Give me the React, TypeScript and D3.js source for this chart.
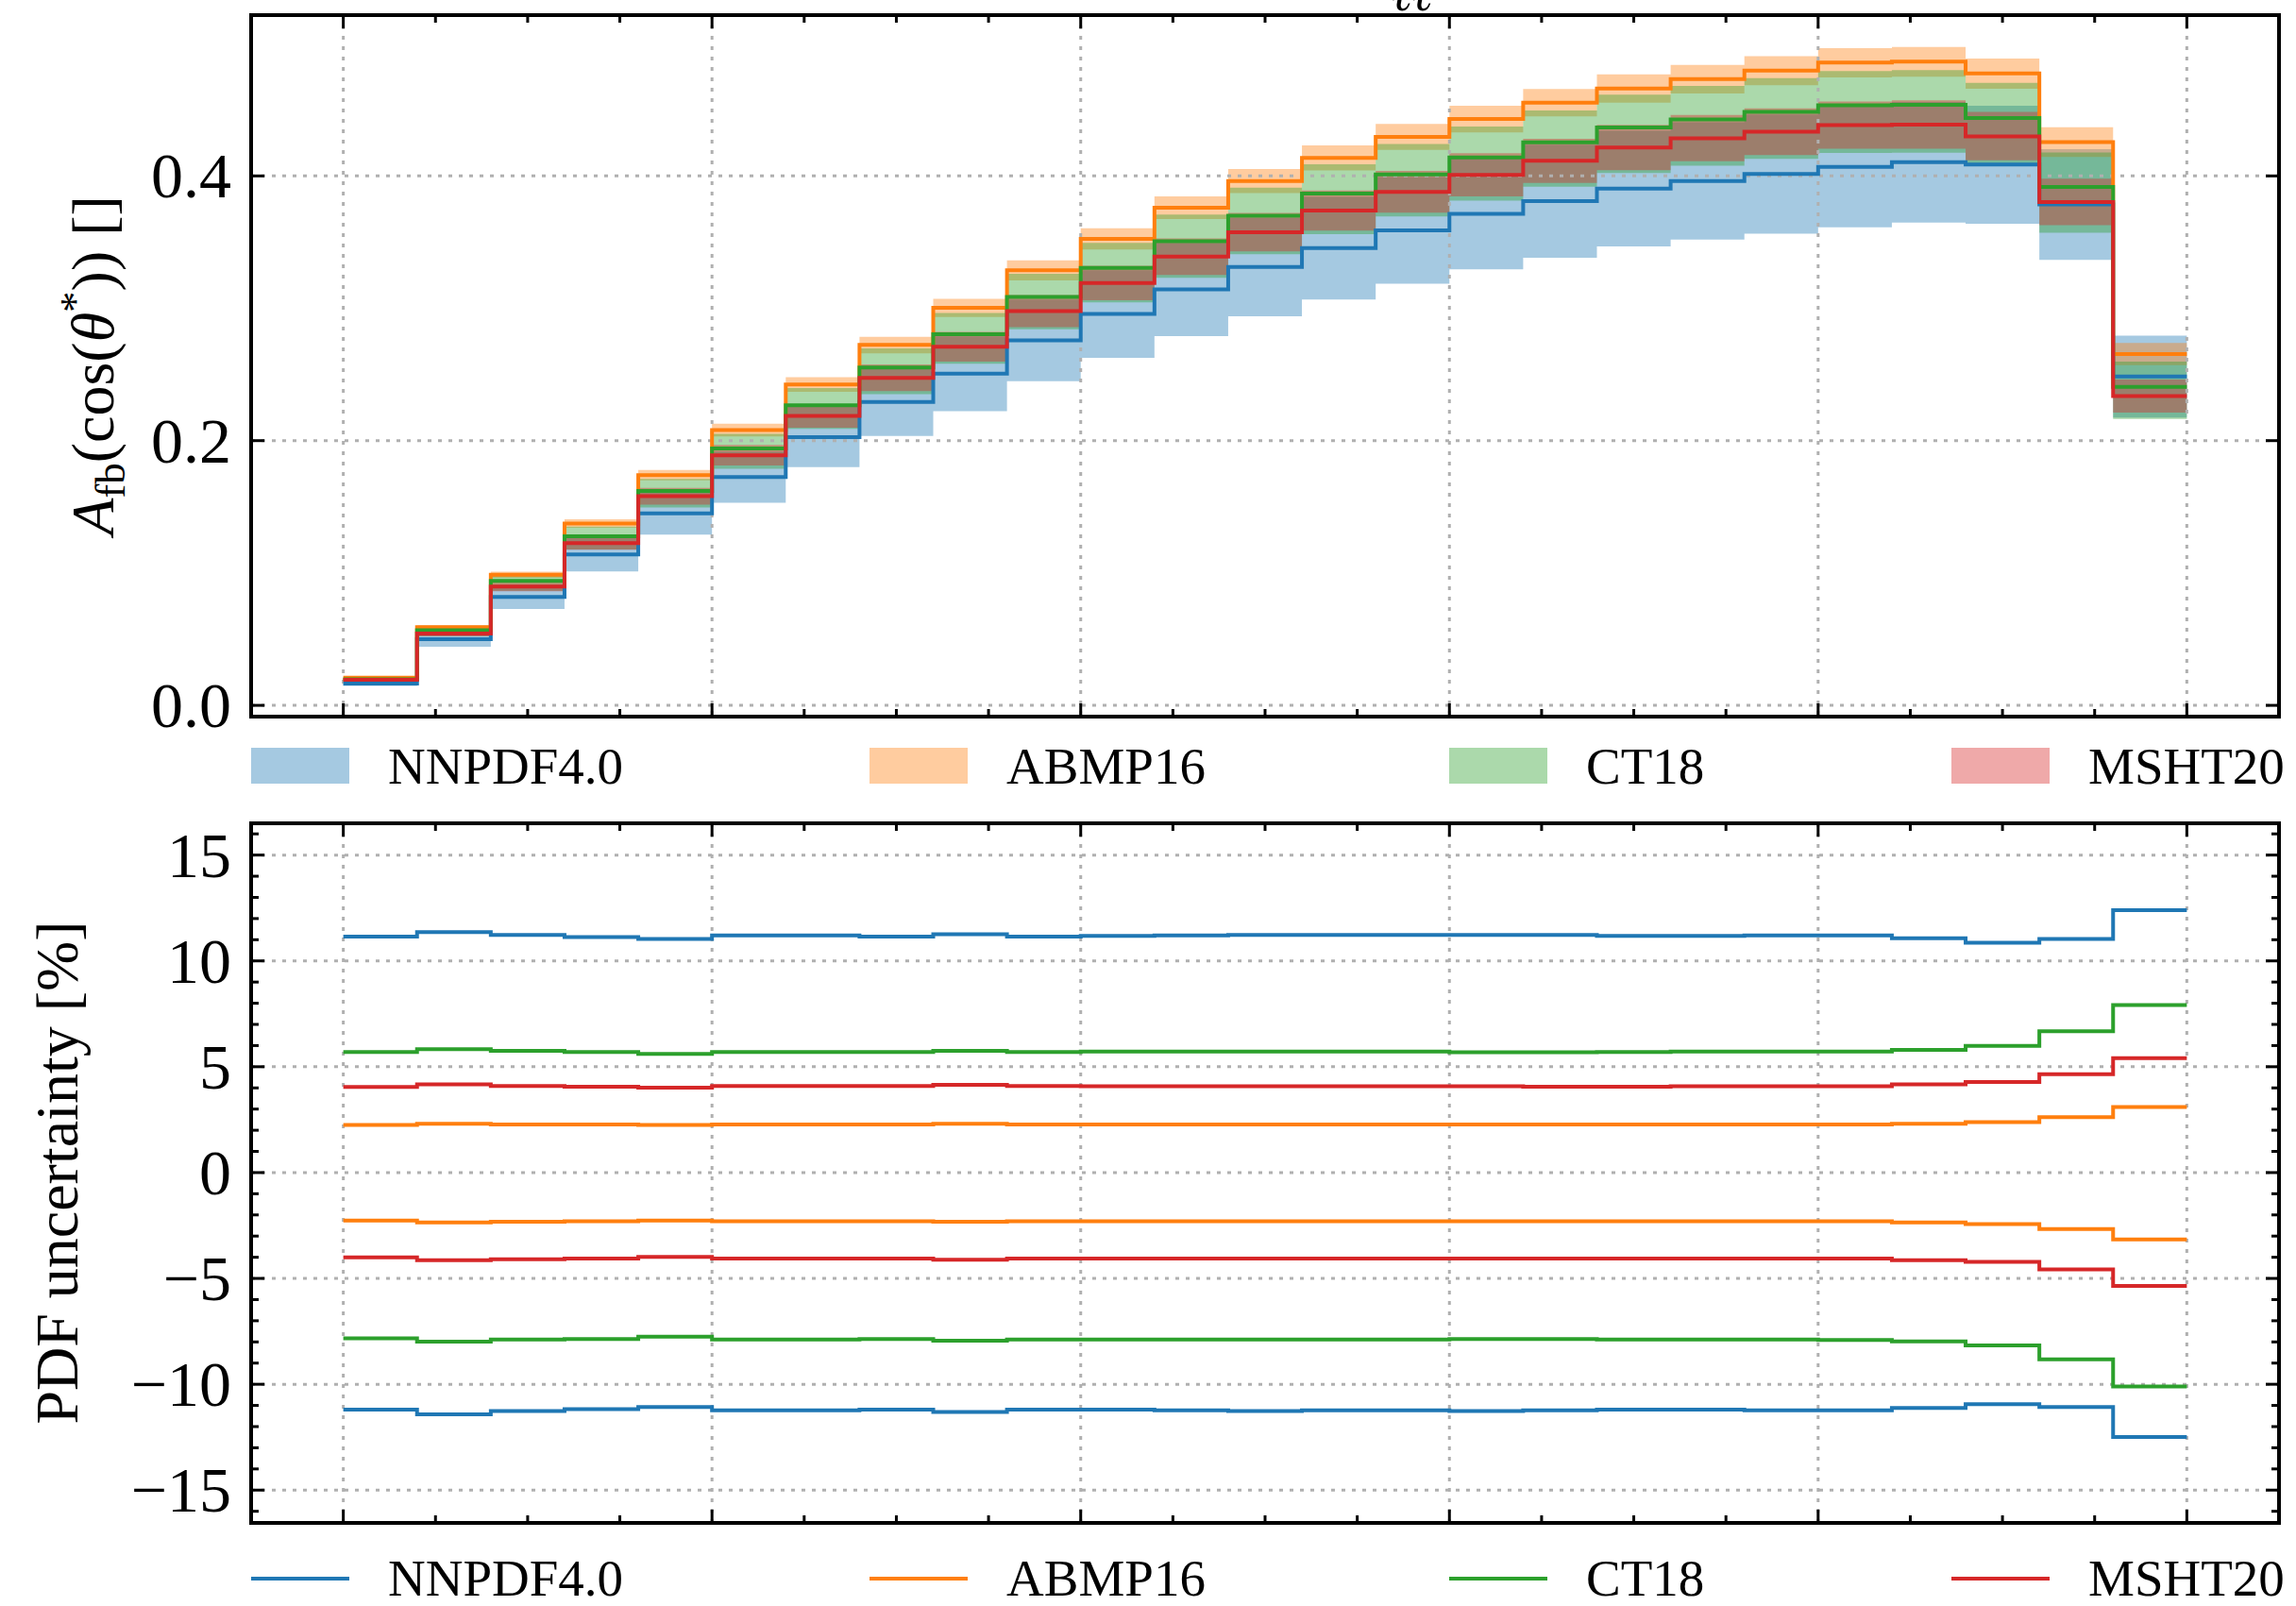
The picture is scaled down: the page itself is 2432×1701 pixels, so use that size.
import React from 'react';
import * as d3 from 'd3';

// ---- data -------------------------------------------------------------
const NBINS = 25;
const seriesNames = ['NNPDF4.0', 'ABMP16', 'CT18', 'MSHT20'];
const seriesColors = ['#1f77b4', '#ff7f0e', '#2ca02c', '#d62728'];

// central predictions of A_fb per bin
const nnpdfCentral = [0.0165, 0.050, 0.082, 0.114, 0.145, 0.1725, 0.2027, 0.2293, 0.2506, 0.2758, 0.2957, 0.3142, 0.3312, 0.3454, 0.3589, 0.3713, 0.3809, 0.3905, 0.3962, 0.4015, 0.4068, 0.4104, 0.4086, 0.3784, 0.2485];
const abmpCentral = [0.0210, 0.059, 0.0987, 0.1374, 0.174, 0.208, 0.2424, 0.2723, 0.3003, 0.3287, 0.3525, 0.376, 0.3962, 0.4136, 0.4295, 0.443, 0.4554, 0.4661, 0.4732, 0.4796, 0.4856, 0.4863, 0.4774, 0.4256, 0.2655];
const ct18Central = [0.0196, 0.0568, 0.094, 0.1278, 0.162, 0.194, 0.2268, 0.2552, 0.2804, 0.3085, 0.3305, 0.3507, 0.37, 0.3866, 0.4011, 0.4139, 0.4253, 0.4366, 0.4427, 0.4483, 0.4533, 0.4537, 0.4437, 0.3916, 0.2407];
const mshtCentral = [0.0193, 0.0543, 0.0898, 0.1225, 0.158, 0.189, 0.2187, 0.2474, 0.2709, 0.2978, 0.3191, 0.339, 0.3575, 0.3738, 0.388, 0.4008, 0.4114, 0.4214, 0.4285, 0.4334, 0.4384, 0.4388, 0.4299, 0.3802, 0.2336];

// relative PDF uncertainty per bin [%]
const nnpdfUp = [11.15, 11.36, 11.23, 11.12, 11.04, 11.2, 11.2, 11.15, 11.26, 11.15, 11.18, 11.2, 11.23, 11.23, 11.23, 11.23, 11.23, 11.18, 11.18, 11.2, 11.2, 11.07, 10.86, 11.04, 12.4];
const nnpdfDown = [-11.2, -11.42, -11.26, -11.18, -11.07, -11.23, -11.23, -11.2, -11.31, -11.2, -11.2, -11.23, -11.26, -11.23, -11.23, -11.26, -11.23, -11.2, -11.2, -11.23, -11.23, -11.12, -10.94, -11.07, -12.49];
const abmpUp = [2.25, 2.3, 2.27, 2.27, 2.25, 2.27, 2.27, 2.27, 2.3, 2.27, 2.27, 2.27, 2.27, 2.27, 2.27, 2.27, 2.27, 2.27, 2.27, 2.27, 2.27, 2.3, 2.38, 2.62, 3.1];
const abmpDown = [-2.27, -2.35, -2.32, -2.3, -2.27, -2.3, -2.3, -2.3, -2.32, -2.3, -2.3, -2.3, -2.3, -2.3, -2.3, -2.3, -2.3, -2.3, -2.3, -2.3, -2.3, -2.35, -2.43, -2.67, -3.16];
const ct18Up = [5.7, 5.83, 5.75, 5.7, 5.61, 5.7, 5.7, 5.7, 5.75, 5.7, 5.72, 5.72, 5.72, 5.72, 5.72, 5.68, 5.68, 5.7, 5.72, 5.72, 5.72, 5.8, 5.99, 6.68, 7.91];
const ct18Down = [-7.83, -7.99, -7.89, -7.86, -7.75, -7.89, -7.89, -7.86, -7.94, -7.89, -7.89, -7.89, -7.89, -7.89, -7.89, -7.86, -7.86, -7.89, -7.89, -7.89, -7.91, -7.97, -8.16, -8.82, -10.1];
const mshtUp = [4.04, 4.17, 4.09, 4.06, 4.01, 4.09, 4.09, 4.09, 4.14, 4.09, 4.08, 4.08, 4.08, 4.08, 4.08, 4.08, 4.06, 4.06, 4.08, 4.08, 4.08, 4.17, 4.28, 4.65, 5.4];
const mshtDown = [-4.01, -4.14, -4.09, -4.06, -3.98, -4.06, -4.06, -4.06, -4.12, -4.06, -4.06, -4.06, -4.06, -4.06, -4.06, -4.06, -4.06, -4.06, -4.06, -4.06, -4.06, -4.14, -4.22, -4.57, -5.35];

const centrals = [nnpdfCentral, abmpCentral, ct18Central, mshtCentral];
const ups = [nnpdfUp, abmpUp, ct18Up, mshtUp];
const downs = [nnpdfDown, abmpDown, ct18Down, mshtDown];

const topYTicks = [0, 0.2, 0.4];
const topYTickLabels = ['0.0', '0.2', '0.4'];
const botYTicks = [-15, -10, -5, 0, 5, 10, 15];
const botYTickLabels = ['\u221215', '\u221210', '\u22125', '0', '5', '10', '15'];
const xMajorTicks = [0, 5, 10, 15, 20, 25];

// ---- styling ----------------------------------------------------------
const FONT = "'Liberation Serif', 'DejaVu Serif', serif";
const GRID = { stroke: '#b0b0b0', strokeWidth: 3, strokeDasharray: '4 7' };
const BAND_ALPHA = 0.4;

type Panel = { y0: number; y1: number };

export default function App() {
  const W = 2432;
  const H = 1701;
  const axL = 266;
  const axR = 2414;
  const topP: Panel = { y0: 16, y1: 759 };
  const botP: Panel = { y0: 872, y1: 1613 };

  const x = d3.scaleLinear().domain([-1.25, NBINS + 1.25]).range([axL, axR]);
  const yA = d3.scaleLinear().domain([-0.0085, 0.5215]).range([topP.y1, topP.y0]);
  const yP = d3.scaleLinear().domain([-16.55, 16.5]).range([botP.y1, botP.y0]);

  const edges = d3.range(NBINS + 1);
  const atEdges = (vals: number[]) => edges.map((i) => [i, vals[Math.min(i, NBINS - 1)]] as [number, number]);

  const stepLine = (y: d3.ScaleLinear<number, number>) =>
    d3.line<[number, number]>().x((d) => x(d[0])).y((d) => y(d[1])).curve(d3.curveStepAfter);

  const bandArea = d3
    .area<{ e: number; lo: number; hi: number }>()
    .x((d) => x(d.e))
    .y0((d) => yA(d.lo))
    .y1((d) => yA(d.hi))
    .curve(d3.curveStepAfter);

  const series = seriesNames.map((name, k) => {
    const c = centrals[k];
    const band = edges.map((e) => {
      const i = Math.min(e, NBINS - 1);
      return { e, lo: c[i] * (1 + downs[k][i] / 100), hi: c[i] * (1 + ups[k][i] / 100) };
    });
    return { name, color: seriesColors[k], central: c, up: ups[k], down: downs[k], band };
  });

  const xMinor = d3.range(0, NBINS + 0.001, 1.25).filter((v) => !xMajorTicks.includes(v));

  const renderTicks = (p: Panel, y: d3.ScaleLinear<number, number>, yMajor: number[], yMinor: number[]) => {
    const M = 14;
    const m = 8;
    const s = { stroke: '#000', strokeWidth: 3 };
    const out: React.ReactNode[] = [];
    xMajorTicks.forEach((v, i) => {
      out.push(<line key={`xb${i}`} x1={x(v)} x2={x(v)} y1={p.y1} y2={p.y1 - M} {...s} />);
      out.push(<line key={`xt${i}`} x1={x(v)} x2={x(v)} y1={p.y0} y2={p.y0 + M} {...s} />);
    });
    xMinor.forEach((v, i) => {
      out.push(<line key={`xmb${i}`} x1={x(v)} x2={x(v)} y1={p.y1} y2={p.y1 - m} {...s} />);
      out.push(<line key={`xmt${i}`} x1={x(v)} x2={x(v)} y1={p.y0} y2={p.y0 + m} {...s} />);
    });
    yMajor.forEach((v, i) => {
      out.push(<line key={`yl${i}`} x1={axL} x2={axL + M} y1={y(v)} y2={y(v)} {...s} />);
      out.push(<line key={`yr${i}`} x1={axR} x2={axR - M} y1={y(v)} y2={y(v)} {...s} />);
    });
    yMinor.forEach((v, i) => {
      out.push(<line key={`yml${i}`} x1={axL} x2={axL + m} y1={y(v)} y2={y(v)} {...s} />);
      out.push(<line key={`ymr${i}`} x1={axR} x2={axR - m} y1={y(v)} y2={y(v)} {...s} />);
    });
    return out;
  };

  const renderGrid = (p: Panel, y: d3.ScaleLinear<number, number>, yMajor: number[]) => (
    <g>
      {xMajorTicks.map((v, i) => (
        <line key={`gx${i}`} x1={x(v)} x2={x(v)} y1={p.y0} y2={p.y1} {...GRID} />
      ))}
      {yMajor.map((v, i) => (
        <line key={`gy${i}`} x1={axL} x2={axR} y1={y(v)} y2={y(v)} {...GRID} />
      ))}
    </g>
  );

  const botMinor = d3.range(-16, 16.01, 1).filter((v) => !botYTicks.includes(v));

  // legend column starts (relative to the left edge of the axes)
  const legendCols = [0, 655, 1269, 1801];
  const handleW = 104;
  const textGap = 145;

  return (
    <svg
      width={W}
      height={H}
      viewBox={`0 0 ${W} ${H}`}
      style={{ position: 'absolute', left: 0, top: 0, background: '#fff' }}
      fontFamily={FONT}
    >
      <rect x={0} y={0} width={W} height={H} fill="#fff" />
      <defs>
        <clipPath id="clipTop">
          <rect x={axL} y={topP.y0} width={axR - axL} height={topP.y1 - topP.y0} />
        </clipPath>
        <clipPath id="clipBot">
          <rect x={axL} y={botP.y0} width={axR - axL} height={botP.y1 - botP.y0} />
        </clipPath>
      </defs>

      {/* title (runs off the top edge) */}
      <text x={1496} y={11} fontSize={52} fontStyle="italic" textAnchor="middle">
        ℓℓ
      </text>

      {/* ---------- top panel: A_fb with PDF bands ---------- */}
      <g clipPath="url(#clipTop)">
        {series.map((s) => (
          <path key={`band-${s.name}`} d={bandArea(s.band) || ''} fill={s.color} fillOpacity={BAND_ALPHA} stroke="none" />
        ))}
        {renderGrid(topP, yA, topYTicks)}
        {series.map((s) => (
          <path
            key={`line-${s.name}`}
            d={stepLine(yA)(atEdges(s.central)) || ''}
            fill="none"
            stroke={s.color}
            strokeWidth={4}
          />
        ))}
      </g>
      {renderTicks(topP, yA, topYTicks, [])}
      <rect x={axL} y={topP.y0} width={axR - axL} height={topP.y1 - topP.y0} fill="none" stroke="#000" strokeWidth={4} />
      {topYTicks.map((v, i) => (
        <text key={`tyl${i}`} x={245} y={yA(v) + 23} fontSize={68} textAnchor="end">
          {topYTickLabels[i]}
        </text>
      ))}
      <text transform={`translate(120, 387) rotate(-90)`} fontSize={64} textAnchor="middle">
        <tspan fontStyle="italic">A</tspan>
        <tspan fontSize={45} dy={12}>fb</tspan>
        <tspan dy={-12}>(cos(</tspan>
        <tspan fontStyle="italic">θ</tspan>
        <tspan fontSize={45} dy={-26}>*</tspan>
        <tspan dy={26}>))  []</tspan>
      </text>

      {/* top legend: bands */}
      {series.map((s, k) => {
        const lx = axL + legendCols[k];
        return (
          <g key={`lgA-${s.name}`}>
            <rect x={lx} y={792} width={handleW} height={38} fill={s.color} fillOpacity={BAND_ALPHA} />
            <text x={lx + textGap} y={830} fontSize={55}>
              {s.name}
            </text>
          </g>
        );
      })}

      {/* ---------- bottom panel: relative uncertainties ---------- */}
      <g clipPath="url(#clipBot)">
        {renderGrid(botP, yP, botYTicks)}
        {series.map((s) => (
          <g key={`pct-${s.name}`}>
            <path d={stepLine(yP)(atEdges(s.up)) || ''} fill="none" stroke={s.color} strokeWidth={4} />
            <path d={stepLine(yP)(atEdges(s.down)) || ''} fill="none" stroke={s.color} strokeWidth={4} />
          </g>
        ))}
      </g>
      {renderTicks(botP, yP, botYTicks, botMinor)}
      <rect x={axL} y={botP.y0} width={axR - axL} height={botP.y1 - botP.y0} fill="none" stroke="#000" strokeWidth={4} />
      {botYTicks.map((v, i) => (
        <text key={`byl${i}`} x={245} y={yP(v) + 23} fontSize={68} textAnchor="end">
          {botYTickLabels[i]}
        </text>
      ))}
      <text transform={`translate(82, 1242) rotate(-90)`} fontSize={64} textAnchor="middle">
        PDF uncertainty [%]
      </text>

      {/* bottom legend: lines */}
      {series.map((s, k) => {
        const lx = axL + legendCols[k];
        return (
          <g key={`lgB-${s.name}`}>
            <line x1={lx} x2={lx + handleW} y1={1672} y2={1672} stroke={s.color} strokeWidth={4} />
            <text x={lx + textGap} y={1690} fontSize={55}>
              {s.name}
            </text>
          </g>
        );
      })}
    </svg>
  );
}
